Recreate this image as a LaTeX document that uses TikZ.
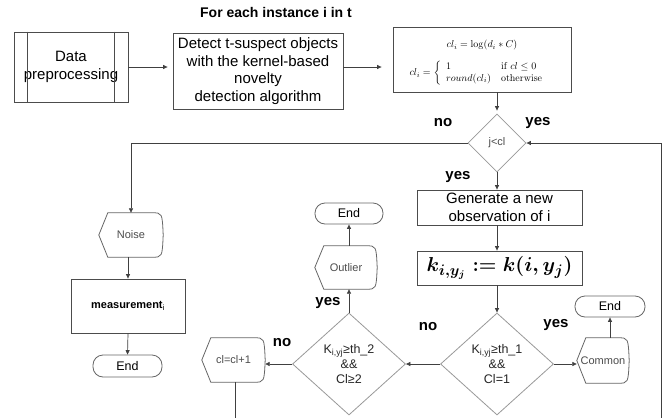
\documentclass[tikz,border=0pt]{standalone}
\usepackage[no-math]{fontspec}
\setmainfont{Liberation Sans}
\usepackage{amsmath}
\usepackage{graphicx}
\usetikzlibrary{shapes.geometric,arrows.meta}
\begin{document}
\begin{tikzpicture}[x=1pt,y=-1pt,
  pbox/.style={draw=black!70, line width=0.8pt, align=center, inner sep=0pt, font=\fontsize{15}{17.5}\selectfont},
  boxline/.style={draw=black!70, line width=0.8pt},
  dia/.style={diamond, draw=black!40, line width=0.8pt, inner sep=0pt, align=center, font=\fontsize{12.5}{15}\selectfont, text=black!85},
  disp/.style={inner sep=0pt, text=black!70, font=\fontsize{11}{13}\selectfont},
  displine/.style={draw=black!60, line width=0.8pt},
  term/.style={draw=black!60, line width=0.8pt, rounded corners=10pt, inner sep=0pt, font=\fontsize{12.5}{14}\selectfont},
  lab/.style={inner sep=0pt, font=\bfseries\fontsize{15}{17}\selectfont},
  ttl/.style={inner sep=0pt, font=\bfseries\fontsize{14}{16}\selectfont},
  mathtxt/.style={inner sep=0pt, font=\fontsize{10}{12}\selectfont},
  arr/.style={draw=black!75, line width=0.7pt, -{Triangle[length=4.5pt,width=4pt]}},
  ln/.style={draw=black!75, line width=0.7pt}]
\fill[white] (0,0) rectangle (665,418);
\useasboundingbox (0,0) rectangle (665,418);

\node[ttl] (title) at (276,12) {For each instance i in t};

\node[pbox, minimum width=114pt, minimum height=70pt] (data) at (71,67) {Data\\preprocessing};
\draw[boxline] ([xshift=14pt]data.north west) -- ([xshift=14pt]data.south west);
\draw[boxline] ([xshift=-14pt]data.north east) -- ([xshift=-14pt]data.south east);

\node[pbox, minimum width=170pt, minimum height=76pt] (detect) at (258,71) {Detect t-suspect objects\\with the kernel-based\\novelty\\detection algorithm};

\node[pbox, minimum width=178pt, minimum height=65pt] (formula) at (482,59.5) {};
\node[mathtxt] (f1) at (482,45) {$cl_i=\log(d_i*C)$};
\node[mathtxt] (f2) at (479,73) {$cl_i=\left\{\begin{array}{ll}1 & \mathrm{if}\ cl\le 0\\ round(cl_i) & \mathrm{otherwise}\end{array}\right.$};

\draw[arr, shorten >=5pt] (data.east) -- (data.east -| detect.west);
\draw[arr, shorten >=11pt] (detect.east |- data.east) -- (data.east -| formula.west);

\node[dia, minimum width=58pt, minimum height=58pt, font=\fontsize{11}{13}\selectfont, text=black!70] (jcl) at (497,143) {j<cl};
\draw[arr, shorten >=3pt] (formula.south -| jcl.north) -- (jcl.north);

\node[lab] (no1) at (443,123) {no};
\node[lab] (yes1) at (538,123) {yes};
\node[lab] (yes2) at (458,177) {yes};

\node[pbox, minimum width=165pt, minimum height=35pt] (gen) at (499.5,207.5) {Generate a new\\observation of i};
\node[pbox, minimum width=165pt, minimum height=34pt] (kbox) at (499.5,268) {\scalebox{1.4}{\boldmath$k_{i,y_j} := k(i,y_j)$}};

\node[dia, minimum width=113pt, minimum height=102pt] (d1) at (497,364) {K\textsubscript{i,yj}≥th\_1\\\&\&\\Cl=1};
\node[dia, minimum width=113pt, minimum height=102pt] (d2) at (349,364) {K\textsubscript{i,yj}≥th\_2\\\&\&\\Cl≥2};

\draw[arr] (jcl.south) -- (jcl.south |- gen.north);
\draw[arr] (gen.south -| jcl.south) -- (jcl.south |- kbox.north);
\draw[arr] (kbox.south -| jcl.south) -- (d1.north);

\node[lab] (no2) at (428,327) {no};
\node[lab] (yes3) at (556,325) {yes};
\node[lab] (yes4) at (328,303) {yes};
\node[lab] (no3) at (282,343) {no};

\node[disp, minimum width=64pt, minimum height=44pt] (noise) at (131,235) {Noise};
\node[disp, minimum width=62pt, minimum height=43pt] (outlier) at (346,267.5) {Outlier};
\node[disp, minimum width=52pt, minimum height=45pt] (common) at (603,360.5) {Common};
\node[disp, minimum width=63pt, minimum height=44pt] (inc) at (233.5,360) {cl=cl+1};
\foreach \n in {noise,outlier,common,inc}{
  \draw[displine] ([xshift=9pt]\n.north west) -- ([xshift=-11pt]\n.north east)
    .. controls ([xshift=-1pt]\n.north east) .. (\n.east)
    .. controls ([xshift=-1pt]\n.south east) .. ([xshift=-11pt]\n.south east)
    -- ([xshift=9pt]\n.south west) -- (\n.west) -- cycle;
}

\node[pbox, minimum width=114pt, minimum height=54pt, font=\bfseries\fontsize{11}{13}\selectfont] (meas) at (128,306) {measurement\textsubscript{\mdseries i}};

\node[term, minimum width=69pt, minimum height=22pt] (end1) at (127.5,366) {End};
\node[term, minimum width=68pt, minimum height=21pt] (end2) at (349,213.5) {End};
\node[term, minimum width=70pt, minimum height=21pt] (end3) at (610,306.5) {End};

\draw[arr] (jcl.west) -| (noise.north);
\draw[arr] (meas.north |- noise.south) -- (meas.north);
\draw[arr] (meas.south) -- (end1.north);
\draw[arr] (d1.west) -- (d2.east);
\draw[arr] (d1.east) -- (d1.east -| common.west);
\draw[arr] (d2.west) -- (d2.west -| inc.east);
\draw[arr] (d2.north) -- (d2.north |- outlier.south);
\draw[arr] (d2.north |- outlier.north) -- (d2.north |- end2.south);
\draw[arr] (end3.south |- common.north) -- (end3.south);

\coordinate (rb) at (661,418);
\coordinate (ib) at (235,418);
\draw[ln] (inc.south -| ib) -- (ib);
\draw[arr] (rb) |- (jcl.east);
\end{tikzpicture}
\end{document}
